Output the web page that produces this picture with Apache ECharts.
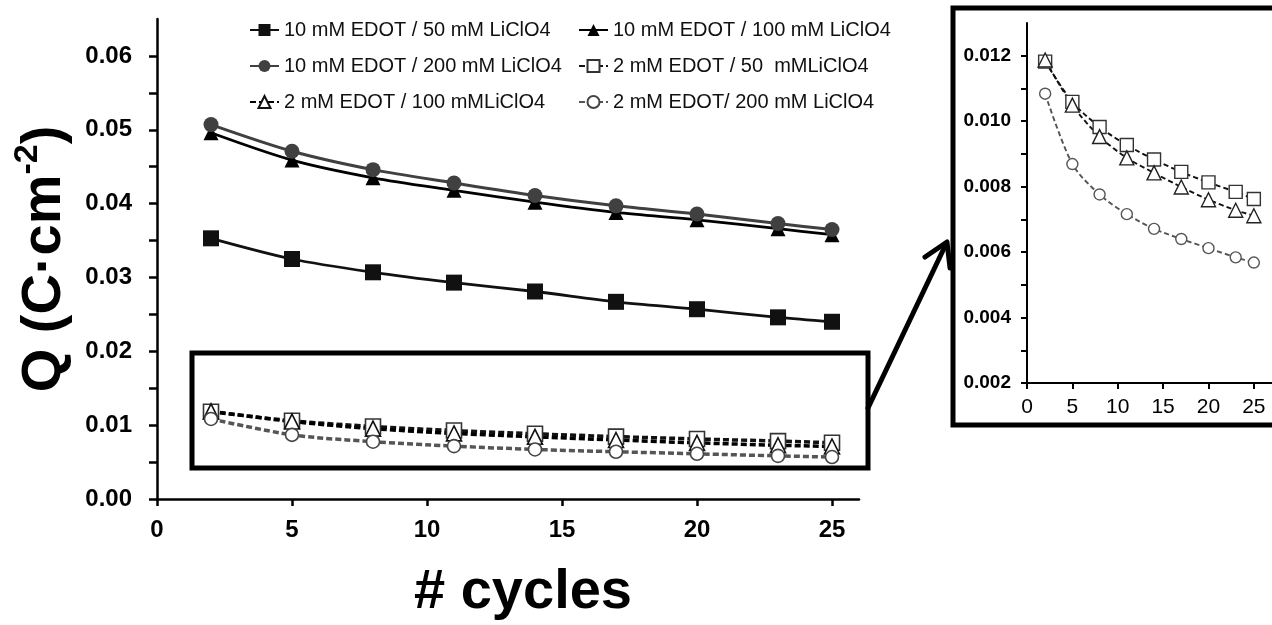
<!DOCTYPE html>
<html>
<head>
<meta charset="utf-8">
<script src="https://cdn.jsdelivr.net/npm/echarts@6/dist/echarts.min.js"></script>
<style>
html,body{margin:0;padding:0;background:#fff;}
#chart{width:1272px;height:625px;}
</style>
</head>
<body>
<div id="chart"></div>
<script>
// ---- data ----
const cycles = [2, 5, 8, 11, 14, 17, 20, 23, 25];
const q10_50  = [0.0353, 0.0325, 0.0307, 0.0293, 0.0281, 0.0267, 0.0257, 0.0246, 0.0240];
const q10_100 = [0.0496, 0.0459, 0.0435, 0.0418, 0.0402, 0.0388, 0.0378, 0.0366, 0.0358];
const q10_200 = [0.0507, 0.0471, 0.0446, 0.0428, 0.0411, 0.0397, 0.0386, 0.0373, 0.0365];
const q2_50   = [0.01182, 0.01059, 0.00982, 0.00927, 0.00883, 0.00845, 0.00813, 0.00784, 0.00762];
const q2_100  = [0.01187, 0.01049, 0.00953, 0.00888, 0.00842, 0.00799, 0.00760, 0.00728, 0.00711];
const q2_200  = [0.01084, 0.00869, 0.00776, 0.00716, 0.00671, 0.00640, 0.00612, 0.00584, 0.00568];
const seriesNames = [
  '10 mM EDOT / 50 mM LiClO4',
  '10 mM EDOT / 100 mM LiClO4',
  '10 mM EDOT / 200 mM LiClO4',
  '2 mM EDOT / 50  mMLiClO4',
  '2 mM EDOT / 100 mMLiClO4',
  '2 mM EDOT/ 200 mM LiClO4'
];
const mainXTicks = [0, 5, 10, 15, 20, 25];
const mainYLabels = [0, 0.01, 0.02, 0.03, 0.04, 0.05, 0.06];
const mainYTicks = [0, 0.005, 0.01, 0.015, 0.02, 0.025, 0.03, 0.035, 0.04, 0.045, 0.05, 0.055, 0.06];
const insetXTicks = [0, 5, 10, 15, 20, 25];
const insetYLabels = [0.002, 0.004, 0.006, 0.008, 0.010, 0.012];
const insetYTicks = [0.002, 0.003, 0.004, 0.005, 0.006, 0.007, 0.008, 0.009, 0.010, 0.011, 0.012];

const FONT = "'Liberation Sans', Arial, sans-serif";
const pts = arr => cycles.map((c, i) => [c, arr[i]]);

const chart = echarts.init(document.getElementById('chart'), null, {renderer: 'canvas'});

function solidSeries(name, arr, symbol, size, color, lw) {
  return {
    name, type: 'line', xAxisIndex: 0, yAxisIndex: 0, data: pts(arr),
    smooth: 0.3, symbol, symbolSize: size, showAllSymbol: true,
    lineStyle: {color, width: lw},
    itemStyle: {color, borderColor: color, borderWidth: 0},
    emphasis: {disabled: true}, z: 3
  };
}
function dashedSeries(name, arr, symbol, size, lineColor, markColor, lw, dash, axis) {
  return {
    name, type: 'line', xAxisIndex: axis, yAxisIndex: axis, data: pts(arr),
    smooth: 0.3, symbol, symbolSize: size, showAllSymbol: true,
    lineStyle: {color: lineColor, width: lw, type: dash},
    itemStyle: {color: '#ffffff', borderColor: markColor, borderWidth: axis === 0 ? 1.6 : 1.4},
    emphasis: {disabled: true}, z: 3
  };
}

const axisLineMain = {show: true, lineStyle: {color: '#000', width: 2.5}};
const axisLineInset = {show: true, lineStyle: {color: '#000', width: 2}};

const legendCommon = {
  orient: 'vertical', itemGap: 16, itemWidth: 29, itemHeight: 15, padding: 0,
  textStyle: {fontFamily: FONT, fontSize: 20, color: '#111'},
  selectedMode: false
};

const option = {
  animation: false,
  backgroundColor: '#fff',
  grid: [
    {left: 157, top: 19, width: 702, height: 480, containLabel: false},
    {left: 1027, top: 23, width: 248, height: 360, containLabel: false}
  ],
  xAxis: [
    {
      type: 'value', gridIndex: 0, min: 0, max: 26,
      axisLine: axisLineMain,
      axisTick: {show: true, inside: false, length: 7, lineStyle: {color: '#000', width: 2.5}, customValues: mainXTicks},
      axisLabel: {customValues: mainXTicks, margin: 19, fontFamily: FONT, fontWeight: 'bold', fontSize: 24, color: '#000'},
      splitLine: {show: false}
    },
    {
      type: 'value', gridIndex: 1, min: 0, max: 27,
      axisLine: axisLineInset,
      axisTick: {show: true, inside: false, length: 6, lineStyle: {color: '#000', width: 2}, customValues: insetXTicks},
      axisLabel: {customValues: insetXTicks, margin: 14, fontFamily: FONT, fontSize: 21, color: '#000'},
      splitLine: {show: false}
    }
  ],
  yAxis: [
    {
      type: 'value', gridIndex: 0, min: 0, max: 0.065,
      axisLine: axisLineMain,
      axisTick: {show: true, inside: false, length: 8, lineStyle: {color: '#000', width: 2.5}, customValues: mainYTicks},
      axisLabel: {customValues: mainYLabels, margin: 25, fontFamily: FONT, fontWeight: 'bold', fontSize: 24, color: '#000',
        formatter: v => v.toFixed(2)},
      splitLine: {show: false}
    },
    {
      type: 'value', gridIndex: 1, min: 0.002, max: 0.013,
      axisLine: axisLineInset,
      axisTick: {show: true, inside: false, length: 6, lineStyle: {color: '#000', width: 2}, customValues: insetYTicks},
      axisLabel: {customValues: insetYLabels, margin: 16, fontFamily: FONT, fontWeight: 'bold', fontSize: 19, color: '#000',
        formatter: v => v.toFixed(3)},
      splitLine: {show: false}
    }
  ],
  legend: [
    Object.assign({left: 249, top: 20, data: [seriesNames[0], seriesNames[2], seriesNames[4]]}, legendCommon),
    Object.assign({left: 578, top: 20, data: [seriesNames[1], seriesNames[3], seriesNames[5]]}, legendCommon)
  ],
  series: [
    solidSeries(seriesNames[0], q10_50, 'rect', 16, '#111111', 2.8),
    solidSeries(seriesNames[1], q10_100, 'triangle', 15, '#000000', 2.8),
    solidSeries(seriesNames[2], q10_200, 'circle', 15, '#404040', 3),
    dashedSeries(seriesNames[3], q2_50, 'rect', 15, '#111', '#333', 3.5, [6, 3], 0),
    dashedSeries(seriesNames[4], q2_100, 'triangle', 15, '#000', '#111', 3.5, [6, 3], 0),
    dashedSeries(seriesNames[5], q2_200, 'circle', 13, '#555', '#444', 3.5, [6, 3], 0),
    dashedSeries('inset 2/50', q2_50, 'rect', 13, '#111', '#333', 1.9, [5, 3], 1),
    dashedSeries('inset 2/100', q2_100, 'triangle', 14, '#111', '#222', 1.9, [5, 3], 1),
    dashedSeries('inset 2/200', q2_200, 'circle', 11, '#555', '#555', 1.9, [5, 3], 1)
  ],
  graphic: [
    {type: 'rect', z: 100, shape: {x: 192, y: 353, width: 676, height: 115},
      style: {fill: 'none', stroke: '#000', lineWidth: 5}},
    {type: 'rect', z: 100, shape: {x: 953, y: 8, width: 340, height: 417},
      style: {fill: 'none', stroke: '#000', lineWidth: 5}},
    {type: 'polyline', z: 100, shape: {points: [[868, 408], [946, 244]]},
      style: {stroke: '#000', lineWidth: 5, lineCap: 'round'}},
    {type: 'polyline', z: 100, shape: {points: [[925, 257], [947, 242], [950, 268]]},
      style: {stroke: '#000', lineWidth: 5, lineCap: 'round', lineJoin: 'round', fill: 'none'}},
    {type: 'text', z: 100, x: 42, y: 259, rotation: Math.PI / 2,
      style: {text: '{a|Q (C·cm}{s|-2}{a|)}', align: 'center', verticalAlign: 'middle',
        rich: {
          a: {fontFamily: FONT, fontWeight: 'bold', fontSize: 56, lineHeight: 62, fill: '#000', verticalAlign: 'bottom'},
          s: {fontFamily: FONT, fontWeight: 'bold', fontSize: 34, lineHeight: 62, fill: '#000', verticalAlign: 'top'}
        }}},
    {type: 'text', z: 100, x: 523, y: 593,
      style: {text: '# cycles', align: 'center', verticalAlign: 'middle',
        fontFamily: FONT, fontWeight: 'bold', fontSize: 56, fill: '#000'}}
  ]
};
chart.setOption(option);
</script>
</body>
</html>
